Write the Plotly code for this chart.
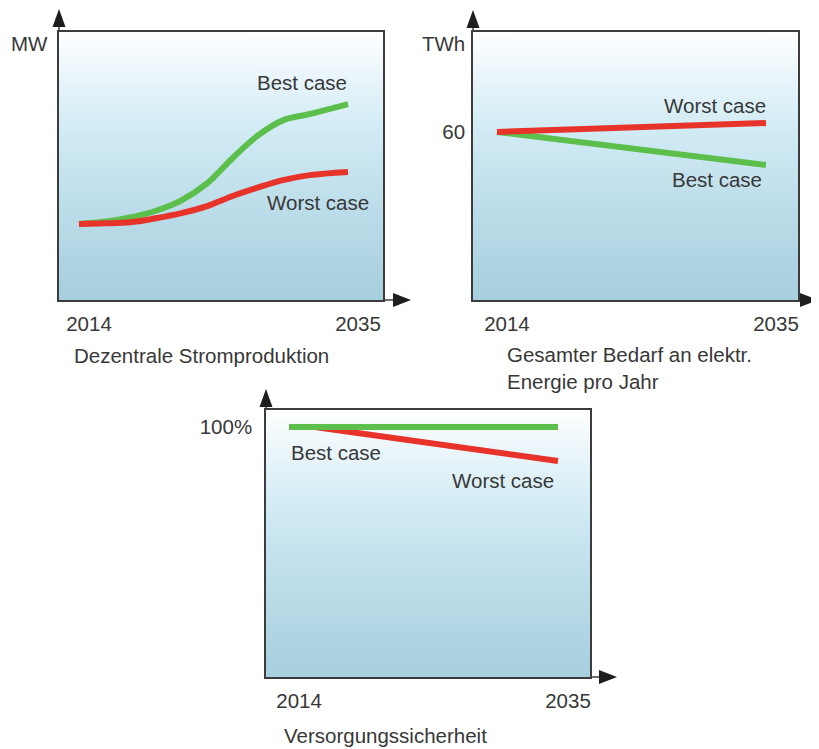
import plotly.graph_objects as go

# The page places the figure 8px from the top-left corner of the window,
# so the figure is 8px smaller and window pixel positions are offset by 8.
OFF = 8
W, H = 819 - OFF, 749 - OFF

# ---------------- data ----------------
x_ticks = [2014, 2035]
x_ticktext = ["2014", "2035"]

# Panel 1: Dezentrale Stromproduktion (MW)
p1_years = [2014, 2016, 2018, 2020, 2022, 2024, 2026, 2028, 2030, 2032, 2035]
p1_best = [28.4, 29.2, 30.8, 33.3, 37.2, 43.5, 53.0, 61.5, 67.2, 69.4, 73.1]
p1_worst = [28.4, 28.6, 29.0, 30.5, 32.4, 35.0, 38.8, 42.0, 44.8, 46.6, 47.8]

# Panel 2: Gesamter Bedarf an elektr. Energie pro Jahr (TWh)
p2_years = [2014, 2035]
p2_best = [60, 48.2]
p2_worst = [60, 63.2]
p2_yticks = [60]
p2_yticktext = ["60"]

# Panel 3: Versorgungssicherheit (%)
p3_best_years = [2014, 2035]
p3_best = [100, 100]
p3_worst_years = [2014, 2016, 2035]
p3_worst = [100, 100, 86.4]
p3_yticks = [100]
p3_yticktext = ["100%"]

# ---------------- style ----------------
GREEN = "#5cbf4c"
RED = "#e8332b"
TXT = "#383838"
AXC = "#3c3c3c"
FONT = "Liberation Sans, Arial, sans-serif"
FS = 20.5
LW = 6


def px(x):
    return (x - OFF) / W


def py(y):
    return 1 - (y - OFF) / H


# panel boxes in window pixels: (left, right, top, bottom)
boxes = {
    1: (59, 383, 32, 300),
    2: (473, 798, 32, 300),
    3: (266, 590, 410, 677),
}
xranges = {1: [2012.44, 2037.73], 2: [2012.13, 2037.50], 3: [2012.20, 2037.50]}
yranges = {1: [0, 100], 2: [0, 95.7], 3: [0, 106.8]}

grad = [[0.0, "#a7cfdd"], [0.35, "#bcdde9"], [0.65, "#d3ecf5"],
        [0.85, "#ebf6fa"], [1.0, "#ffffff"]]

fig = go.Figure()

for k in (1, 2, 3):
    sx = "" if k == 1 else str(k)
    x0, x1 = xranges[k]
    y0, y1 = yranges[k]
    fig.add_trace(go.Scatter(
        x=[x0, x1, x1, x0, x0], y=[y0, y0, y1, y1, y0],
        xaxis="x" + sx, yaxis="y" + sx, mode="lines",
        line=dict(width=0), fill="toself",
        fillgradient=dict(type="vertical", colorscale=grad, start=y0, stop=y1),
        hoverinfo="skip", showlegend=False))

# Panel 1 lines
fig.add_trace(go.Scatter(x=p1_years, y=p1_best, mode="lines",
                         line=dict(color=GREEN, width=LW, shape="spline", smoothing=1.0),
                         xaxis="x", yaxis="y", showlegend=False, name="Best case"))
fig.add_trace(go.Scatter(x=p1_years, y=p1_worst, mode="lines",
                         line=dict(color=RED, width=LW, shape="spline", smoothing=1.0),
                         xaxis="x", yaxis="y", showlegend=False, name="Worst case"))
# Panel 2 lines
fig.add_trace(go.Scatter(x=p2_years, y=p2_best, mode="lines",
                         line=dict(color=GREEN, width=LW),
                         xaxis="x2", yaxis="y2", showlegend=False, name="Best case"))
fig.add_trace(go.Scatter(x=p2_years, y=p2_worst, mode="lines",
                         line=dict(color=RED, width=LW),
                         xaxis="x2", yaxis="y2", showlegend=False, name="Worst case"))
# Panel 3 lines
fig.add_trace(go.Scatter(x=p3_worst_years, y=p3_worst, mode="lines",
                         line=dict(color=RED, width=LW),
                         xaxis="x3", yaxis="y3", showlegend=False, name="Worst case"))
fig.add_trace(go.Scatter(x=p3_best_years, y=p3_best, mode="lines",
                         line=dict(color=GREEN, width=LW),
                         xaxis="x3", yaxis="y3", showlegend=False, name="Best case"))

layout = dict(
    width=W, height=H, autosize=False,
    margin=dict(l=0, r=0, t=0, b=0),
    paper_bgcolor="white", plot_bgcolor="rgba(0,0,0,0)",
    font=dict(family=FONT, size=FS, color=TXT),
    showlegend=False,
)

for k in (1, 2, 3):
    sx = "" if k == 1 else str(k)
    l, r, t, b = boxes[k]
    layout["xaxis" + sx] = dict(
        domain=[px(l), px(r)], range=xranges[k], anchor="y" + sx,
        showgrid=False, zeroline=False, showline=True, mirror=True,
        linecolor=AXC, linewidth=1.5, ticks="",
        tickvals=x_ticks, ticktext=x_ticktext, ticklabelshift=10,
        ticklabelstandoff=5,
        tickfont=dict(family=FONT, size=FS, color=TXT), fixedrange=True)
    ydict = dict(
        domain=[py(b), py(t)], range=yranges[k], anchor="x" + sx,
        showgrid=False, zeroline=False, showline=True, mirror=True,
        linecolor=AXC, linewidth=1.5, ticks="",
        tickfont=dict(family=FONT, size=FS, color=TXT), fixedrange=True)
    if k == 1:
        ydict["showticklabels"] = False
    elif k == 2:
        ydict.update(tickvals=p2_yticks, ticktext=p2_yticktext, ticklabelstandoff=2)
    else:
        ydict.update(tickvals=p3_yticks, ticktext=p3_yticktext, ticklabelstandoff=8)
    layout["yaxis" + sx] = ydict

fig.update_layout(**layout)

# axis extensions and arrowheads (paper coordinates)
arrows = [
    # (left, right, top, bottom, up_tip_y, right_tip_x)
    (59, 383, 32, 300, 9, 411),
    (473, 798, 32, 300, 10, 818),
    (266, 590, 410, 677, 389, 617),
]
for (l, r, t, b, uy, rx) in arrows:
    base_up = uy + 18
    base_r = rx - 18
    fig.add_shape(type="line", xref="paper", yref="paper",
                  x0=px(l), x1=px(l), y0=py(t), y1=py(base_up),
                  line=dict(color=AXC, width=1.5))
    fig.add_shape(type="path", xref="paper", yref="paper",
                  path=f"M {px(l-6.5)} {py(base_up)} L {px(l+6.5)} {py(base_up)} L {px(l)} {py(uy)} Z",
                  fillcolor="#1e1e1e", line=dict(width=0))
    fig.add_shape(type="line", xref="paper", yref="paper",
                  x0=px(r), x1=px(base_r), y0=py(b), y1=py(b),
                  line=dict(color=AXC, width=1.5))
    fig.add_shape(type="path", xref="paper", yref="paper",
                  path=f"M {px(base_r)} {py(b-7)} L {px(base_r)} {py(b+7)} L {px(rx)} {py(b)} Z",
                  fillcolor="#1e1e1e", line=dict(width=0))


def ann(text, x, y, xanchor="center", yanchor="middle"):
    fig.add_annotation(text=text, x=px(x), y=py(y), xref="paper", yref="paper",
                       xanchor=xanchor, yanchor=yanchor, showarrow=False,
                       font=dict(family=FONT, size=FS, color=TXT), align="left")


# unit labels
ann("MW", 9, 43, xanchor="left")
ann("TWh", 467, 43, xanchor="right")

# series labels
ann("Best case", 302, 83)
ann("Worst case", 318, 202)
ann("Worst case", 715, 105)
ann("Best case", 717, 180)
ann("Best case", 289, 452, xanchor="left")
ann("Worst case", 503, 480)

# subtitles
ann("Dezentrale Stromproduktion", 72, 355, xanchor="left")
ann("Gesamter Bedarf an elektr.<br>Energie pro Jahr", 505, 368, xanchor="left")
ann("Versorgungssicherheit", 282, 735, xanchor="left")

fig.write_html("out.html")
